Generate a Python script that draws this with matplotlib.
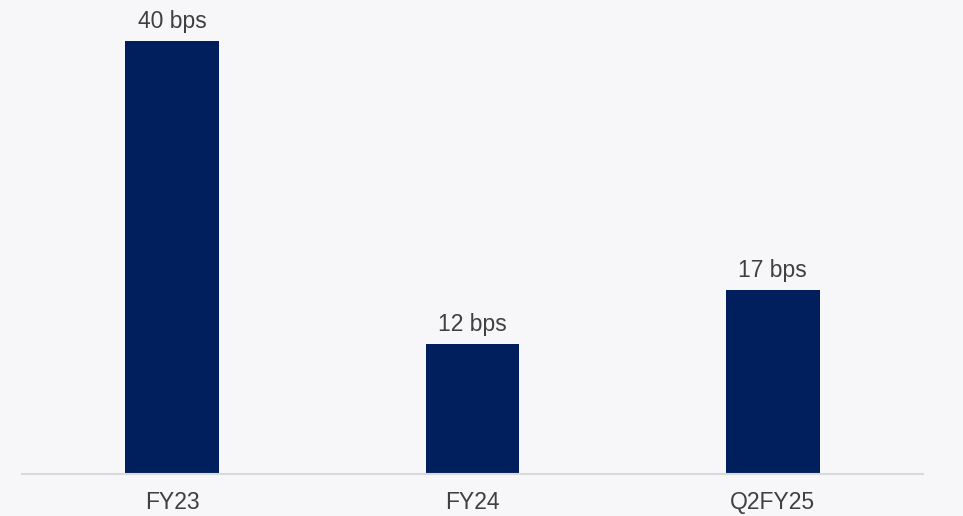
import matplotlib.pyplot as plt

# chart data
categories = ["FY23", "FY24", "Q2FY25"]
values = [40, 12, 17]
value_labels = ["40 bps", "12 bps", "17 bps"]

bar_color = "#001F5C"
text_color = "#404040"
bg_color = "#F7F7F9"

plt.rcParams["font.family"] = ["Liberation Sans", "DejaVu Sans"]

fig = plt.figure(figsize=(9.63, 5.16), dpi=100, facecolor=bg_color)
ax = fig.add_axes([0.0228, 0.0814, 0.9357, 0.9186], facecolor=bg_color)

x = range(len(categories))
bars = ax.bar(x, values, width=0.312, color=bar_color, zorder=2)

for rect, lab in zip(bars, value_labels):
    ax.annotate(lab, (rect.get_x() + rect.get_width() / 2, rect.get_height()),
                xytext=(0, 6), textcoords="offset points",
                ha="center", va="bottom", fontsize=16.5, color=text_color)

ax.set_xlim(-0.5, 2.5)
ax.set_ylim(0, 43.8)
ax.set_xticks(list(x))
ax.set_xticklabels(categories, fontsize=16.5, color=text_color)
ax.tick_params(axis="x", length=0, pad=12)
ax.set_yticks([])

for side in ["top", "right", "left"]:
    ax.spines[side].set_visible(False)
ax.spines["bottom"].set_color("#D9D9D9")
ax.spines["bottom"].set_linewidth(1.5)

fig.savefig("out.png", dpi=100, facecolor=bg_color)
